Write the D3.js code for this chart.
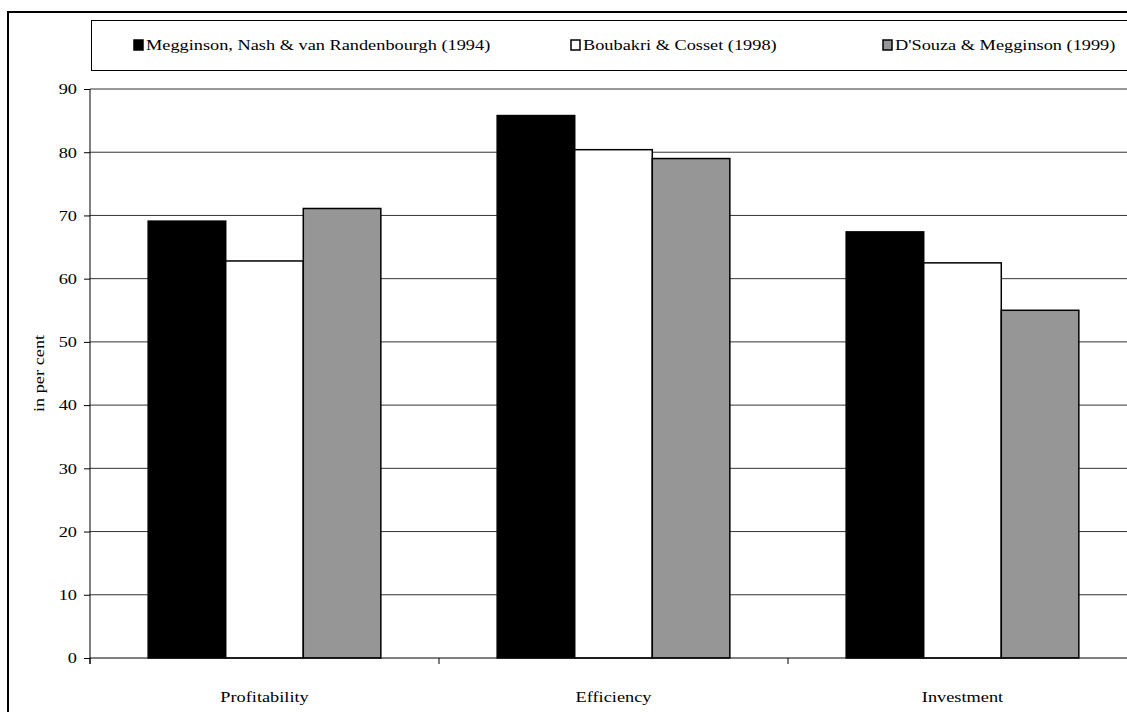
<!DOCTYPE html>
<html>
<head>
<meta charset="utf-8">
<script src="https://cdn.jsdelivr.net/npm/d3@7"></script>
<style>
  body { margin: 0; background: #fff; }
  text { font-family: "Liberation Serif", "Times New Roman", serif; font-size: 15px; fill: #000; }
</style>
</head>
<body>
<script>
// data
var categories = ["Profitability", "Efficiency", "Investment"];
var seriesNames = ["Megginson, Nash & van Randenbourgh (1994)", "Boubakri & Cosset (1998)", "D'Souza & Megginson (1999)"];
var seriesColors = ["#000000", "#ffffff", "#969696"];
var megginson = [69.1, 85.8, 67.4];
var boubakri = [62.8, 80.4, 62.5];
var dsouza = [71.1, 79.0, 55.0];
var yTicks = [0, 10, 20, 30, 40, 50, 60, 70, 80, 90];

var series = [megginson, boubakri, dsouza];
var w = 1127, h = 712;
var stretch = 1.22; // text in the original is wider than normal

var svg = d3.select("body").append("svg")
    .attr("width", w)
    .attr("height", h);

// outer frame
svg.append("rect")
    .attr("x", 8).attr("y", 12)
    .attr("width", w + 20).attr("height", h + 20)
    .style("fill", "none").style("stroke", "#000").style("stroke-width", 2);

var plotLeft = 90, plotTop = 89, plotBottom = 658, plotRight = 90 + 3 * 349;

var x = d3.scaleBand().domain(categories).range([plotLeft, plotRight]);
var xs = d3.scaleBand().domain([0, 1, 2]).range([0, x.bandwidth()]).paddingOuter(0.75);
var y = d3.scaleLinear().domain([0, 90]).range([plotBottom, plotTop]);

// gridlines
svg.append("g").selectAll("line").data(yTicks.filter(function(d){ return d > 0; }))
    .join("line")
    .attr("x1", plotLeft).attr("x2", w + 5)
    .attr("y1", function(d){ return y(d); }).attr("y2", function(d){ return y(d); })
    .style("stroke", "#333").style("stroke-width", 1);

// bars
categories.forEach(function(c, i){
  series.forEach(function(s, j){
    svg.append("rect")
      .attr("x", x(c) + xs(j))
      .attr("y", y(s[i]))
      .attr("width", xs.bandwidth())
      .attr("height", plotBottom - y(s[i]))
      .style("fill", seriesColors[j])
      .style("stroke", "#000")
      .style("stroke-width", 1.5);
  });
});

// y axis
var yAxis = svg.append("g")
    .attr("transform", "translate(" + plotLeft + ",0)")
    .call(d3.axisLeft(y).tickValues(yTicks).tickSize(6).tickPadding(7));
yAxis.select(".domain").attr("d", "M0," + plotTop + "V" + (plotBottom + 6));
yAxis.selectAll("text").style("font-size", "15px").attr("font-family", null);
yAxis.selectAll("line, path").style("stroke", "#000");

// x axis
var xAxis = svg.append("g")
    .attr("transform", "translate(0," + plotBottom + ")")
    .call(d3.axisBottom(x).tickSize(0).tickPadding(0));
xAxis.select(".domain").attr("d", "M" + plotLeft + ",0H" + (w + 5)).style("stroke", "#000");
xAxis.selectAll("text").attr("y", 44).attr("dy", 0).style("font-size", "15px").attr("font-family", null);
svg.append("g").selectAll("line").data([0, 1, 2, 3])
    .join("line")
    .attr("x1", function(d){ return plotLeft + d * x.step(); })
    .attr("x2", function(d){ return plotLeft + d * x.step(); })
    .attr("y1", plotBottom).attr("y2", plotBottom + 6)
    .style("stroke", "#000");

// y label
svg.append("text")
    .attr("transform", "translate(44," + ((plotTop + plotBottom) / 2) + ") rotate(-90)")
    .attr("text-anchor", "middle")
    .text("in per cent");

// legend
svg.append("rect")
    .attr("x", 91.5).attr("y", 20.5)
    .attr("width", w).attr("height", 50)
    .style("fill", "#fff").style("stroke", "#000").style("stroke-width", 1);

var legendX = [134, 571, 883];
var legend = svg.append("g").selectAll("g").data(seriesNames)
    .join("g")
    .attr("transform", function(d, i){ return "translate(" + legendX[i] + ",40)"; });
legend.append("rect")
    .attr("width", 9).attr("height", 10)
    .style("fill", function(d, i){ return seriesColors[i]; })
    .style("stroke", "#000").style("stroke-width", 1.5);
legend.append("text")
    .attr("x", 12).attr("y", 10)
    .text(function(d){ return d; });

// widen text like the original
svg.selectAll("text").each(function(){
  var len = this.getComputedTextLength();
  d3.select(this).attr("textLength", len * stretch).attr("lengthAdjust", "spacingAndGlyphs");
});
</script>
</body>
</html>
